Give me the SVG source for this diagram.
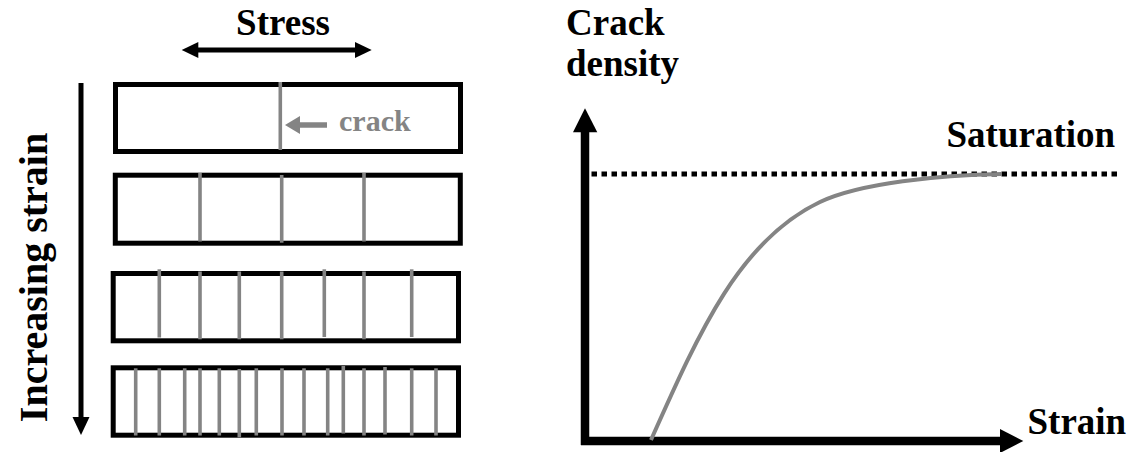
<svg xmlns="http://www.w3.org/2000/svg" width="1134" height="452" viewBox="0 0 1134 452">
<style>
.t{font-family:"Liberation Serif","Times New Roman",serif;font-weight:bold;fill:#000}
.box{fill:#fff;stroke:#000;stroke-width:5}
.ck{stroke:#848484;stroke-width:3.6}
.ln{stroke:#000;fill:none}
</style>
<rect width="1134" height="452" fill="#fff"/>
<g id="stress-label">
<text class="t" x="283" y="35" font-size="37" text-anchor="middle">Stress</text>
</g>
<g id="strain-label">
<text class="t" font-size="40" text-anchor="middle" transform="translate(47,277.5) rotate(-90)">Increasing strain</text>
</g>
<g id="box1">
<rect class="box" x="115.5" y="84.5" width="345" height="67"/>
<line class="ck" x1="280.3" y1="82" x2="280.3" y2="150"/>
</g>
<g id="crack-label">
<text class="t" x="339" y="130.5" font-size="30" fill="#848484" style="fill:#848484">crack</text>
</g>
<g id="box2">
<rect class="box" x="115.3" y="175.2" width="345" height="68"/>
<line class="ck" x1="200" y1="173" x2="200" y2="241.5"/>
<line class="ck" x1="281.7" y1="175" x2="281.7" y2="242.7"/>
<line class="ck" x1="364" y1="173" x2="364" y2="241.5"/>
</g>
<g id="box3">
<rect class="box" x="113.2" y="273.5" width="345.3" height="67.3"/>
<line class="ck" x1="159.3" y1="269.3" x2="159.3" y2="337.5"/>
<line class="ck" x1="200" y1="271.5" x2="200" y2="339.3"/>
<line class="ck" x1="239.3" y1="271.5" x2="239.3" y2="339.3"/>
<line class="ck" x1="281.7" y1="271.5" x2="281.7" y2="339.3"/>
<line class="ck" x1="324.3" y1="269.3" x2="324.3" y2="337"/>
<line class="ck" x1="364" y1="271.5" x2="364" y2="339.3"/>
<line class="ck" x1="411.7" y1="269.3" x2="411.7" y2="337"/>
</g>
<g id="box4">
<rect class="box" x="113.2" y="367.8" width="345.3" height="67.4"/>
<line class="ck" x1="135.7" y1="368.3" x2="135.7" y2="435.5"/>
<line class="ck" x1="159.3" y1="368.3" x2="159.3" y2="435.5"/>
<line class="ck" x1="184.7" y1="368.3" x2="184.7" y2="435.5"/>
<line class="ck" x1="200" y1="368.3" x2="200" y2="435.5"/>
<line class="ck" x1="219.3" y1="368.3" x2="219.3" y2="435.5"/>
<line class="ck" x1="239.3" y1="369" x2="239.3" y2="437.3"/>
<line class="ck" x1="256.3" y1="368.3" x2="256.3" y2="435.5"/>
<line class="ck" x1="282" y1="368.3" x2="282" y2="435.5"/>
<line class="ck" x1="304" y1="368.3" x2="304" y2="435.5"/>
<line class="ck" x1="327.7" y1="368.3" x2="327.7" y2="435.5"/>
<line class="ck" x1="343.3" y1="366" x2="343.3" y2="433.5"/>
<line class="ck" x1="364" y1="368.3" x2="364" y2="435.5"/>
<line class="ck" x1="385" y1="367" x2="385" y2="434.5"/>
<line class="ck" x1="411.7" y1="368.3" x2="411.7" y2="435.5"/>
<line class="ck" x1="436" y1="368.3" x2="436" y2="435.5"/>
</g>
<g id="axis-labels">
<text class="t" x="566" y="35" font-size="37">Crack</text>
<text class="t" x="566" y="76" font-size="37">density</text>
<text class="t" x="946.5" y="146.5" font-size="37">Saturation</text>
<text class="t" x="1027.5" y="433.5" font-size="37">Strain</text>
</g>
<g id="connectors">
<line class="ln" x1="198" y1="50" x2="355" y2="50" stroke-width="5"/>
<polygon points="181.7,50 198.3,42 198.3,58"/>
<polygon points="371.7,50 355,42 355,58"/>
<line class="ln" x1="298" y1="125" x2="327" y2="125" stroke="#848484" style="stroke:#848484" stroke-width="5.5"/>
<polygon points="285,125 300,116 300,134" fill="#848484"/>
<line class="ln" x1="81" y1="83" x2="81" y2="418" stroke-width="5"/>
<polygon points="72.5,417 89.5,417 81,435"/>
<line class="ln" x1="585" y1="445" x2="585" y2="131" stroke-width="8.5"/>
<polygon points="585,108.3 573,132.3 597.3,132.3"/>
<line class="ln" x1="581" y1="441" x2="1001" y2="441" stroke-width="8.5"/>
<polygon points="1000,429 1023.3,441 1000,453"/>
<line class="ln" x1="591.5" y1="174" x2="1118" y2="174" stroke-width="5" stroke-dasharray="5.5 4.5"/>
<path class="ln" d="M651,440 C700,330 740,240 820,202 C860,183 940,175 1001.5,174" stroke="#848484" style="stroke:#848484" stroke-width="4"/>
</g>
</svg>
